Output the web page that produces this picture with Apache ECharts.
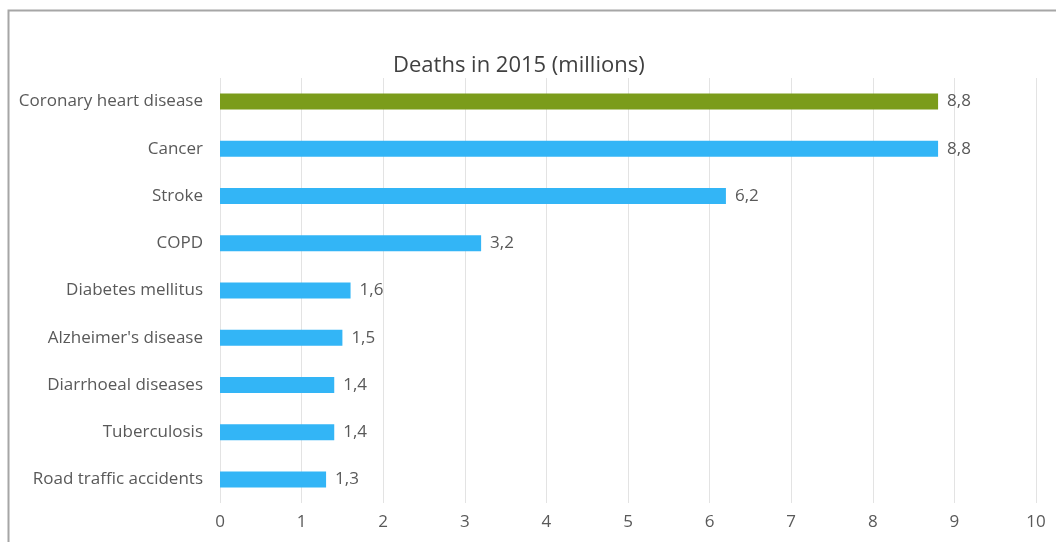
<!DOCTYPE html>
<html><head><meta charset="utf-8">
<script src="https://cdn.jsdelivr.net/npm/echarts@6/dist/echarts.min.js"></script>
<style>html,body{margin:0;padding:0;background:#fff}#c{width:1056px;height:542px}</style>
</head><body><div id="c"></div>
<script>
const categories = ["Coronary heart disease","Cancer","Stroke","COPD","Diabetes mellitus","Alzheimer's disease","Diarrhoeal diseases","Tuberculosis","Road traffic accidents"];
const values = [8.8, 8.8, 6.2, 3.2, 1.6, 1.5, 1.4, 1.4, 1.3];
const highlightIndex = 0;
const xTicks = [0,1,2,3,4,5,6,7,8,9,10];

const FONT = '"Open Sans", "Noto Sans", sans-serif';
const chart = echarts.init(document.getElementById('c'));
chart.setOption({
  animation: false,
  title: {
    text: 'Deaths in 2015 (millions)',
    left: 388, top: 50,
    textStyle: { fontFamily: FONT, fontSize: 22, fontWeight: 'normal', color: '#404040' }
  },
  graphic: [{
    type: 'polyline',
    shape: { points: [[8.5, 542], [8.5, 10.5], [1056, 10.5]] },
    style: { stroke: '#a6a6a6', lineWidth: 2, fill: null }
  }],
  grid: { left: 220, right: 20, top: 78, bottom: 39, containLabel: false },
  xAxis: {
    type: 'value', min: 0, max: 10, interval: 1,
    axisLine: { show: false }, axisTick: { show: false },
    splitLine: { lineStyle: { color: '#e3e3e3', width: 1 } },
    axisLabel: { fontFamily: FONT, fontSize: 17, color: '#595959', margin: 11,
      formatter: v => xTicks.includes(v) ? String(v) : '' }
  },
  yAxis: {
    type: 'category', data: categories, inverse: true,
    axisLine: { show: false }, axisTick: { show: false },
    axisLabel: { fontFamily: FONT, fontSize: 17, color: '#595959', margin: 17 }
  },
  series: [{
    type: 'bar',
    data: values.map((v, i) => ({ value: v, itemStyle: { color: i === highlightIndex ? '#7b9c1b' : '#33b5f6' } })),
    barWidth: 16,
    label: { show: true, position: 'right', distance: 9, fontFamily: FONT, fontSize: 17, color: '#595959',
      formatter: p => p.value.toFixed(1).replace('.', ',') }
  }]
});
</script></body></html>
